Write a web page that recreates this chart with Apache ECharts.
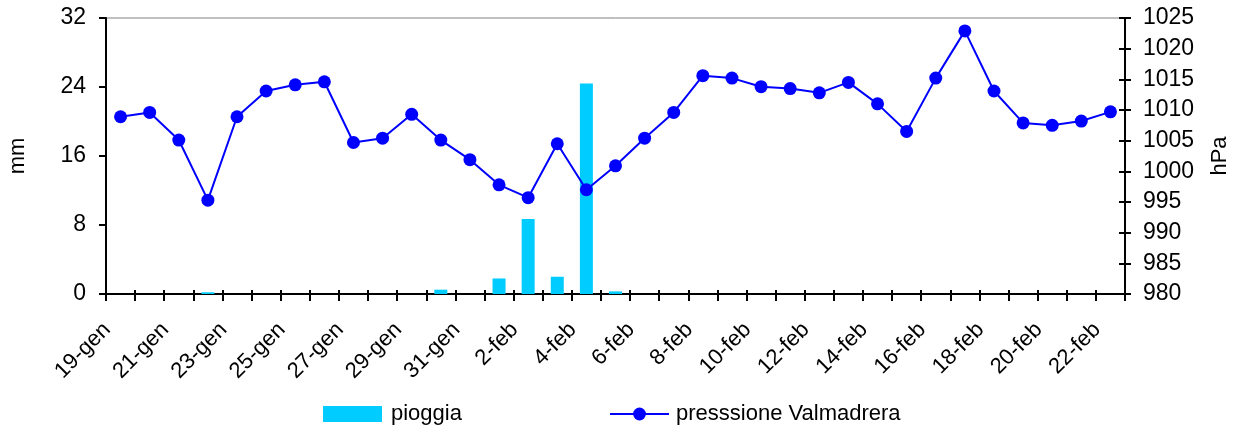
<!DOCTYPE html>
<html>
<head>
<meta charset="utf-8">
<script src="https://cdn.jsdelivr.net/npm/echarts@6/dist/echarts.min.js"></script>
<style>
html,body{margin:0;padding:0;background:#fff;}
#chart{width:1239px;height:432px;}
</style>
</head>
<body>
<div id="chart"></div>
<script>
var categories = ['19-gen','20-gen','21-gen','22-gen','23-gen','24-gen','25-gen','26-gen','27-gen','28-gen','29-gen','30-gen','31-gen',
  '1-feb','2-feb','3-feb','4-feb','5-feb','6-feb','7-feb','8-feb','9-feb','10-feb','11-feb','12-feb','13-feb','14-feb','15-feb','16-feb','17-feb','18-feb','19-feb','20-feb','21-feb','22-feb'];
var pioggia = [0,0,0,0.2,0,0,0,0,0,0,0,0.5,0,
  1.8,8.7,2.0,24.4,0.3,0,0,0,0,0,0,0,0,0,0,0,0,0,0,0,0,0];
var pressione = [1008.9,1009.6,1005.1,995.3,1008.9,1013.1,1014.1,1014.6,1004.7,1005.4,1009.3,1005.1,1001.9,
  997.8,995.7,1004.5,997.0,1000.9,1005.4,1009.6,1015.6,1015.2,1013.8,1013.5,1012.8,1014.5,1011.0,1006.5,1015.2,1022.9,1013.1,1007.9,1007.5,1008.2,1009.7];
var mmTicks = {min:0, max:32, interval:8};
var hPaTicks = {min:980, max:1025, interval:5};

var FONT = "'Liberation Sans', Arial, sans-serif";
var chart = echarts.init(document.getElementById('chart'), null, {renderer:'canvas'});
chart.setOption({
  animation:false,
  textStyle:{fontFamily:FONT, fontSize:22, color:'#000'},
  grid:{left:106, right:114, top:18, bottom:138, outerBoundsMode:'none', containLabel:false,
        show:true, borderColor:'#808080', borderWidth:1, backgroundColor:'transparent'},
  legend:[
    {data:[{name:'pioggia', icon:'rect'}], left:318, top:398, itemWidth:59, itemHeight:16, itemGap:0,
     textStyle:{fontFamily:FONT, fontSize:22, color:'#000', padding:[0,0,0,4]}},
    {data:['presssione Valmadrera'], left:604, top:398, itemWidth:59, itemHeight:16, itemGap:0,
     textStyle:{fontFamily:FONT, fontSize:22, color:'#000', padding:[0,0,0,2]}}
  ],
  xAxis:[{
    type:'category', data:categories, boundaryGap:true, position:'bottom',
    axisLine:{lineStyle:{color:'#000', width:2}},
    axisTick:{show:true, interval:0, length:7, lineStyle:{color:'#000', width:2}},
    axisLabel:{interval:1, rotate:45, margin:19, padding:[0,19,0,0], fontFamily:FONT, fontSize:22, color:'#000'},
    splitLine:{show:false}
  },{
    type:'category', data:categories, boundaryGap:true, position:'bottom', offset:0,
    axisLine:{show:false},
    axisTick:{show:true, inside:true, interval:0, length:4, lineStyle:{color:'#000', width:2}},
    axisLabel:{show:false}, splitLine:{show:false}
  }],
  yAxis:[
    {type:'value', min:mmTicks.min, max:mmTicks.max, interval:mmTicks.interval, position:'left',
     name:'mm', nameLocation:'middle', nameGap:77, nameRotate:90,
     nameTextStyle:{fontFamily:FONT, fontSize:22, color:'#000'},
     axisLine:{show:true, lineStyle:{color:'#000', width:2}},
     axisTick:{show:true, length:7, lineStyle:{color:'#000', width:2}},
     axisLabel:{margin:20, fontFamily:FONT, fontSize:23, color:'#000'},
     splitLine:{show:false}},
    {type:'value', min:hPaTicks.min, max:hPaTicks.max, interval:hPaTicks.interval, position:'right',
     name:'hPa', nameLocation:'middle', nameGap:84, nameRotate:90,
     nameTextStyle:{fontFamily:FONT, fontSize:22, color:'#000'},
     axisLine:{show:true, lineStyle:{color:'#000', width:2}},
     axisTick:{show:true, length:6, lineStyle:{color:'#000', width:2}},
     axisLabel:{margin:18, fontFamily:FONT, fontSize:23, color:'#000',
       formatter:function(v){return String(v);}},
     splitLine:{show:false}},
    {type:'value', min:hPaTicks.min, max:hPaTicks.max, interval:hPaTicks.interval, position:'right', offset:0,
     axisLine:{show:false},
     axisTick:{show:true, inside:true, length:6, lineStyle:{color:'#000', width:2}},
     axisLabel:{show:false}, splitLine:{show:false}}
  ],
  series:[
    {name:'pioggia', type:'bar', xAxisIndex:0, yAxisIndex:0, data:pioggia, barWidth:13,
     itemStyle:{color:'#00CCFF'}, z:2},
    {name:'presssione Valmadrera', type:'line', xAxisIndex:0, yAxisIndex:1, data:pressione,
     symbol:'circle', symbolSize:13, lineStyle:{color:'#0000FF', width:2},
     itemStyle:{color:'#0000FF'}, z:3}
  ]
});
</script>
</body>
</html>
